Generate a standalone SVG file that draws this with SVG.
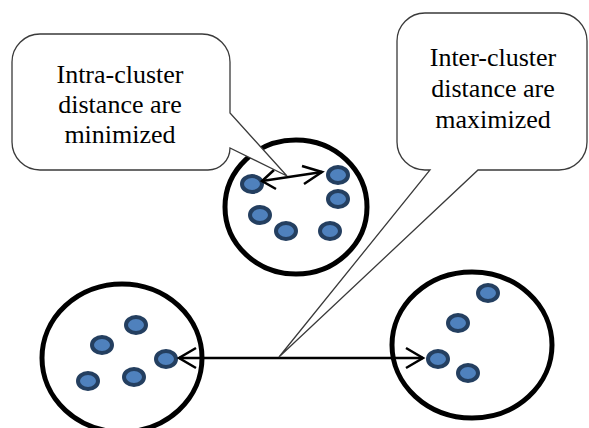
<svg xmlns="http://www.w3.org/2000/svg" width="589" height="428" viewBox="0 0 589 428">
<style>
.cluster{fill:#fff;stroke:#000;stroke-width:5}
.dot{fill:#4f81bd;stroke:#243f60;stroke-width:4}
.callout{fill:#fff;stroke:#3a3a3a;stroke-width:1.3;stroke-linejoin:miter}
.lbl{font-family:"Liberation Serif","Times New Roman",serif;font-size:26px;fill:#000;text-anchor:middle}
.conn{fill:none;stroke:#000;stroke-width:2.5}
</style>
<rect width="589" height="428" fill="#fff"/>
<g id="cluster-top">
<ellipse class="cluster" cx="296" cy="207" rx="71" ry="67"/>
<ellipse class="dot" cx="252" cy="184" rx="10" ry="8"/>
<ellipse class="dot" cx="338" cy="175" rx="10" ry="8"/>
<ellipse class="dot" cx="338" cy="199" rx="10" ry="8"/>
<ellipse class="dot" cx="260" cy="215" rx="10" ry="8"/>
<ellipse class="dot" cx="286" cy="231" rx="10" ry="8"/>
<ellipse class="dot" cx="330" cy="231" rx="10" ry="8"/>
</g>
<g id="cluster-left">
<ellipse class="cluster" cx="122" cy="358" rx="80" ry="74"/>
<ellipse class="dot" cx="136" cy="325" rx="10" ry="8"/>
<ellipse class="dot" cx="102" cy="345" rx="10" ry="8"/>
<ellipse class="dot" cx="166" cy="359" rx="10" ry="8"/>
<ellipse class="dot" cx="88" cy="381" rx="10" ry="8"/>
<ellipse class="dot" cx="134" cy="377" rx="10" ry="8"/>
</g>
<g id="cluster-right">
<ellipse class="cluster" cx="472" cy="345" rx="80" ry="73"/>
<ellipse class="dot" cx="488" cy="293" rx="10" ry="8"/>
<ellipse class="dot" cx="458" cy="323" rx="10" ry="8"/>
<ellipse class="dot" cx="438" cy="359" rx="10" ry="8"/>
<ellipse class="dot" cx="468" cy="373" rx="10" ry="8"/>
</g>
<g id="connectors">
<line class="conn" x1="179" y1="358" x2="423" y2="358"/>
<polyline class="conn" points="196,348 179,358 196,368"/>
<polyline class="conn" points="406,348 423,358 406,368"/>
<line class="conn" x1="262" y1="181" x2="322" y2="172"/>
<polyline class="conn" points="274,170 262,181 276,189"/>
<polyline class="conn" points="302,166 322,172 304,184"/>
</g>
<g id="callout-intra">
<path class="callout" d="M40,34 H202 A28,28 0 0 1 230,62 V113 L287,176 L230,148 A22,22 0 0 1 208,170 H40 A28,28 0 0 1 12,142 V62 A28,28 0 0 1 40,34 Z"/>
<text class="lbl" x="120" y="83">Intra-cluster</text>
<text class="lbl" x="120" y="113">distance are</text>
<text class="lbl" x="120" y="143">minimized</text>
</g>
<g id="callout-inter">
<path class="callout" d="M425,13 H559 A28,28 0 0 1 587,41 V142 A28,28 0 0 1 559,170 H478 L279,357 L430,170 H425 A28,28 0 0 1 397,142 V41 A28,28 0 0 1 425,13 Z"/>
<text class="lbl" x="493" y="66">Inter-cluster</text>
<text class="lbl" x="493" y="97">distance are</text>
<text class="lbl" x="493" y="128">maximized</text>
</g>
</svg>
